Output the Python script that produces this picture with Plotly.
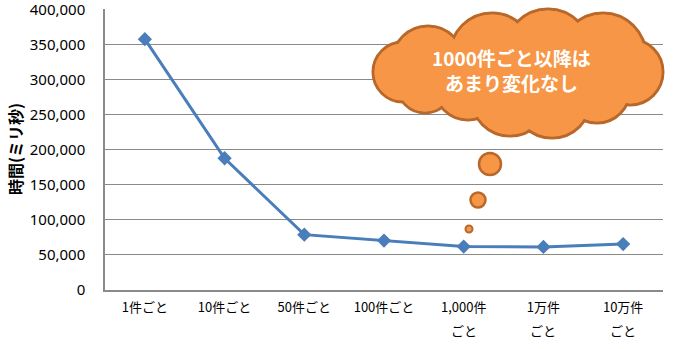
import plotly.graph_objects as go

categories = ["1件ごと", "10件ごと", "50件ごと", "100件ごと", "1,000件", "1万件", "10万件"]
category_line2 = ["", "", "", "", "ごと", "ごと", "ごと"]
times_ms = [358000, 188000, 79000, 70500, 62000, 61500, 65500]
y_ticks = [0, 50000, 100000, 150000, 200000, 250000, 300000, 350000, 400000]
y_title = "時間(ミリ秒)"
cloud_text = "1000件ごと以降は<br>あまり変化なし"

W, H = 673, 349
L, R, T, B = 105, 10, 9, 59
PW, PH = W - L - R, H - T - B

FONT = "Noto Sans CJK JP"
ORANGE = "#F79646"
BROWN = "#B8682A"
BLUE = "#4A7EBB"
GRID = "#8A8A8A"


def px2paper(x, y):
    return (x - L) / PW, (T + PH - y) / PH


def circ(cx, cy, r, fill, line_color, line_w):
    x0, y0 = px2paper(cx - r, cy + r)
    x1, y1 = px2paper(cx + r, cy - r)
    return dict(type="circle", xref="paper", yref="paper", x0=x0, y0=y0, x1=x1, y1=y1,
                fillcolor=fill, line=dict(color=line_color, width=line_w), layer="above")


fig = go.Figure()
fig.add_trace(go.Scatter(
    x=list(range(len(categories))), y=times_ms, mode="lines+markers",
    line=dict(color=BLUE, width=3),
    marker=dict(symbol="diamond", size=11, color=BLUE),
    showlegend=False, cliponaxis=False,
))

# cloud built from overlapping lobes
lobes = [
    (428, 62, 36), (492, 55, 42), (548, 52, 43), (603, 56, 43),
    (630, 72, 33), (403, 72, 30),
    (425, 85, 28), (468, 86, 34), (510, 97, 39), (552, 99, 39), (597, 90, 33),
]
shapes = []
for cx, cy, r in lobes:
    shapes.append(circ(cx, cy, r, ORANGE, BROWN, 3))
for cx, cy, r in lobes:
    shapes.append(circ(cx, cy, r - 1.5, ORANGE, ORANGE, 0))
# thought bubbles
shapes.append(circ(490, 164, 11, ORANGE, BROWN, 2.5))
shapes.append(circ(478, 200, 7.5, ORANGE, BROWN, 2.5))
shapes.append(circ(469, 229, 3.5, ORANGE, BROWN, 2))

tx, ty = px2paper(511, 70)
annotations = [
    dict(text="<b>" + cloud_text + "</b>", xref="paper", yref="paper", x=tx, y=ty,
         xanchor="center", yanchor="middle", showarrow=False,
         font=dict(family=FONT, size=19, color="white")),
]
ax, ay = px2paper(15, 149)
annotations.append(dict(text="<b>" + y_title + "</b>", xref="paper", yref="paper", x=ax, y=ay,
                        xanchor="center", yanchor="middle", showarrow=False, textangle=-90,
                        font=dict(family=FONT, size=16, color="black")))
_, l2y = px2paper(0, 330)
for i, t in enumerate(category_line2):
    if t:
        annotations.append(dict(text=t, xref="x", yref="paper", x=i, y=l2y,
                                xanchor="center", yanchor="middle", showarrow=False,
                                font=dict(family=FONT, size=13, color="black")))

fig.update_layout(
    width=W, height=H, margin=dict(l=L, r=R, t=T, b=B, autoexpand=False),
    paper_bgcolor="white", plot_bgcolor="white",
    font=dict(family=FONT, size=13, color="#000000"),
    shapes=shapes, annotations=annotations,
    xaxis=dict(showgrid=False, showline=True, linecolor=GRID, linewidth=1.5,
               ticks="", tickfont=dict(size=13), range=[-0.5, 6.5], fixedrange=True,
               tickvals=list(range(len(categories))), ticktext=categories,
               ticklabelstandoff=5, zeroline=False, automargin=False),
    yaxis=dict(range=[0, 401000], tickvals=y_ticks, tickformat=",d",
               showgrid=True, gridcolor=GRID, gridwidth=1,
               showline=True, linecolor=GRID, linewidth=1.5,
               ticks="", ticklabelstandoff=15, ticklabeloverflow="allow",
               tickfont=dict(size=15, family="Noto Sans"), zeroline=False,
               automargin=False),
)

fig.write_html("out.html")
